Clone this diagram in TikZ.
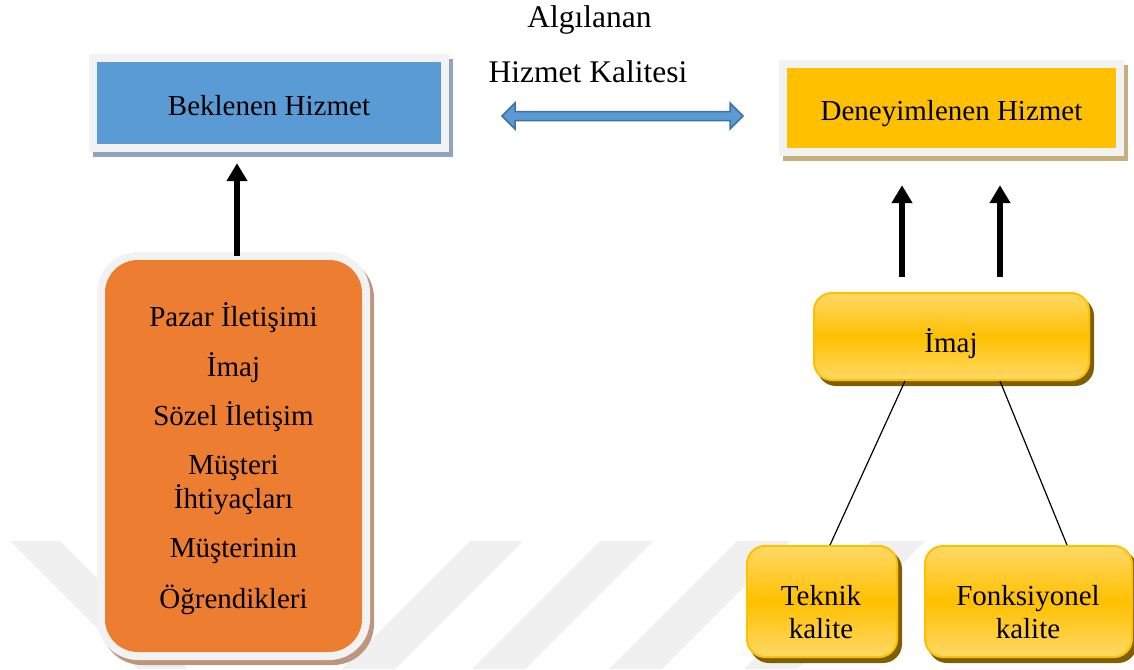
\documentclass[tikz,border=0pt]{standalone}
\usepackage{fontspec}
\setmainfont{Liberation Serif}
\usetikzlibrary{arrows.meta,calc}

\definecolor{skyfill}{HTML}{5B9BD5}
\definecolor{skyedge}{HTML}{41719C}
\definecolor{skyshadow}{HTML}{8FA5BE}
\definecolor{amberfill}{HTML}{FFC000}
\definecolor{ambershadow}{HTML}{C4AF7D}
\definecolor{orangefill}{HTML}{ED7D31}
\definecolor{orangeshadow}{HTML}{BE967D}
\definecolor{framegray}{HTML}{F2F2F2}
\definecolor{goldlight}{HTML}{FFD966}
\definecolor{goldshadow}{HTML}{7F6000}
\definecolor{stripegray}{HTML}{F0F0F0}

\begin{document}
\begin{tikzpicture}[x=1pt,y=-1pt,
  lbl/.style={font=\fontsize{29}{33}\selectfont, inner sep=0pt, anchor=base},
  titlelbl/.style={font=\fontsize{31.5}{36}\selectfont, inner sep=0pt, anchor=base},
  flatbox/.style={rectangle, inner sep=0pt,
    preaction={transform canvas={xshift=4pt,yshift=-5pt}, draw=#1, fill=#1, line width=16pt},
    preaction={draw=framegray, line width=16pt}},
  softbox/.style={rectangle, inner sep=0pt, rounded corners=33pt, fill=orangefill,
    preaction={transform canvas={xshift=4pt,yshift=-5pt}, draw=orangeshadow, fill=orangeshadow, line width=16pt},
    preaction={draw=framegray, line width=16pt}},
  goldbox/.style={rectangle, inner sep=0pt, rounded corners=18pt, draw=amberfill, line width=2pt,
    top color=goldlight, bottom color=goldlight, middle color=amberfill,
    preaction={transform canvas={xshift=4pt,yshift=-5pt}, draw=goldshadow, fill=goldshadow, line width=2pt}},
  bigarrow/.style={line width=6.5pt, -{Triangle[width=20pt,length=18pt]}},
  thinlink/.style={line width=1.2pt},
  dblarrow/.style={fill=skyfill, draw=skyedge, line width=1.5pt, line join=miter},
  stripe/.style={fill=stripegray}]

\useasboundingbox (0,0) rectangle (1134,669);

% faint diagonal stripes in the background
\fill[stripe] (10,541) -- (60,541) -- (188,669) -- (138,669) -- cycle;
\foreach \s in {470,600,737,872}
  \fill[stripe] (\s,541) -- ({\s+53},541) -- ({\s-75},669) -- ({\s-128},669) -- cycle;

% top boxes
\node[flatbox=skyshadow, fill=skyfill, minimum width=344pt, minimum height=82pt] (beklenen) at (269,103) {};
\node[lbl] (beklenenT) at (269,115) {Beklenen Hizmet};

\node[flatbox=ambershadow, fill=amberfill, minimum width=329pt, minimum height=80pt] (deney) at (951.5,108) {};
\node[lbl] (deneyT) at (951.5,120) {Deneyimlenen Hizmet};

% perceived quality label and two-headed arrow
\node[titlelbl] (algT1) at (589.5,28) {Algılanan};
\node[titlelbl] (algT2) at (588,82) {Hizmet Kalitesi};
\coordinate (pl) at (502,116);
\coordinate (pr) at (743,116);
\draw[dblarrow] (pl) -- ($(pl)+(13,-13)$) -- ($(pl)+(13,-4.5)$) -- ($(pr)+(-13,-4.5)$)
  -- ($(pr)+(-13,-13)$) -- (pr) -- ($(pr)+(-13,13)$) -- ($(pr)+(-13,4.5)$)
  -- ($(pl)+(13,4.5)$) -- ($(pl)+(13,13)$) -- cycle;

% expectation factors
\node[softbox, minimum width=257pt, minimum height=392pt] (orange) at (233.5,456) {};
\node[lbl] (o1) at (233.5,326) {Pazar İletişimi};
\node[lbl] (o2) at (233.5,376) {İmaj};
\node[lbl] (o3) at (233.5,425) {Sözel İletişim};
\node[lbl] (o4) at (233.5,474) {Müşteri};
\node[lbl] (o5) at (233.5,508) {İhtiyaçları};
\node[lbl] (o6) at (233.5,557) {Müşterinin};
\node[lbl] (o7) at (233.5,608) {Öğrendikleri};

% experience side
\node[goldbox, minimum width=275pt, minimum height=87pt] (imaj) at (951.5,336.5) {};
\node[lbl] (imajT) at (951,352) {İmaj};

\node[goldbox, minimum width=150pt, minimum height=111pt] (teknik) at (822,601.5) {};
\node[lbl] (teknikT1) at (821,605) {Teknik};
\node[lbl] (teknikT2) at (821,638) {kalite};

\node[goldbox, minimum width=207pt, minimum height=111pt] (fonk) at (1028.5,601.5) {};
\node[lbl] (fonkT1) at (1028,605) {Fonksiyonel};
\node[lbl] (fonkT2) at (1028,638) {kalite};

% connectors
\draw[bigarrow, shorten <=4pt, shorten >=19pt] ([xshift=3.5pt]orange.north) -- ([xshift=-32pt]beklenen.south);
\draw[bigarrow, shorten <=15pt, shorten >=37pt] ([xshift=-49.5pt]imaj.north) -- ([xshift=-49.5pt]deney.south);
\draw[bigarrow, shorten <=15pt, shorten >=37pt] ([xshift=48.5pt]imaj.north) -- ([xshift=48.5pt]deney.south);
\draw[thinlink] ([xshift=-46.5pt]imaj.south) -- ([xshift=8pt]teknik.north);
\draw[thinlink] ([xshift=48.5pt]imaj.south) -- ([xshift=38.5pt]fonk.north);
\end{tikzpicture}
\end{document}
